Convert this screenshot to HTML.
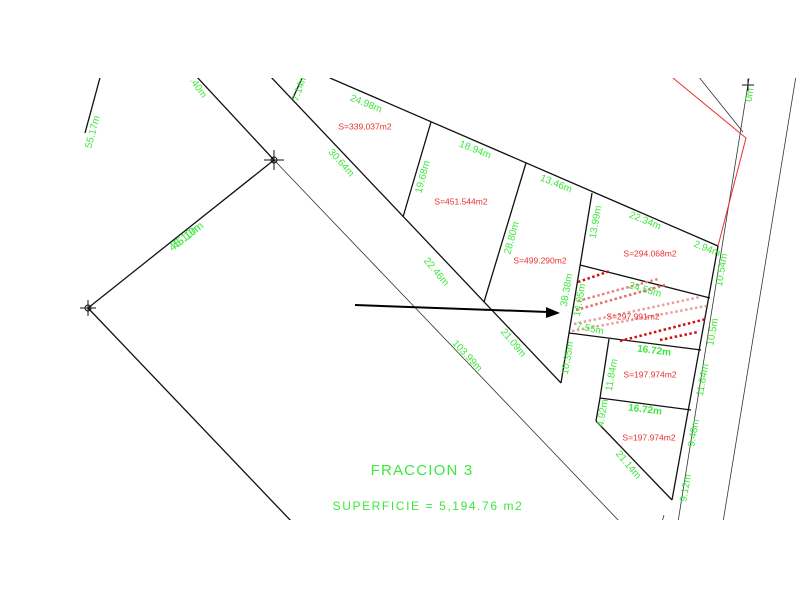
<!DOCTYPE html>
<html><head><meta charset="utf-8"><style>
html,body{margin:0;padding:0;background:#fff;}
svg{display:block;}
text{font-family:"Liberation Sans",sans-serif;}
.g{fill:#3de83d;font-size:10px;text-anchor:middle;dominant-baseline:middle;}
.r{fill:#e83030;font-size:8.5px;text-anchor:middle;dominant-baseline:middle;}
</style></head><body>
<svg width="800" height="600" viewBox="0 0 800 600" xmlns="http://www.w3.org/2000/svg">
<defs><clipPath id="c"><rect x="0" y="78" width="800" height="442"/></clipPath></defs>
<rect width="800" height="600" fill="#fff"/>
<g clip-path="url(#c)">
<g stroke="#111" stroke-width="1.3" fill="none">
<line x1="101" y1="74" x2="85" y2="133"/>
<line x1="196" y1="76" x2="274" y2="160"/>
<line x1="274" y1="160" x2="88" y2="308"/>
<line x1="88" y1="308" x2="292" y2="522"/>
<line x1="270" y1="76" x2="561" y2="383"/>
<line x1="292" y1="100" x2="303" y2="76"/>
<line x1="330" y1="78" x2="718" y2="246"/>
<line x1="718" y1="246" x2="672" y2="500"/>
<line x1="431" y1="122" x2="403" y2="217"/>
<line x1="526" y1="163" x2="484" y2="302"/>
<line x1="592" y1="193" x2="569" y2="333"/>
<line x1="569" y1="333" x2="561" y2="383"/>
<line x1="580" y1="265" x2="710" y2="298"/>
<line x1="569" y1="333" x2="701" y2="350"/>
<line x1="609" y1="339" x2="600" y2="398"/>
<line x1="600" y1="398" x2="691" y2="410"/>
<line x1="600" y1="398" x2="596" y2="421"/>
<line x1="596" y1="421" x2="672" y2="500"/>
</g>
<g stroke="#333" stroke-width="0.8" fill="none">
<line x1="274" y1="160" x2="620" y2="522"/>
<line x1="749" y1="78" x2="678" y2="522"/>
<line x1="796" y1="76" x2="723" y2="522"/>
<line x1="698" y1="76" x2="743" y2="132"/>
<line x1="664" y1="515" x2="662" y2="522"/>
</g>
<polyline points="673,78 746,138 718,246" stroke="#e83030" stroke-width="1" fill="none"/>
<g stroke-width="2.5" stroke-dasharray="2.5,2.5" fill="none">
<line x1="578" y1="282" x2="610" y2="271" stroke="#cc1010"/>
<line x1="578" y1="301" x2="658" y2="279" stroke="#e88080"/>
<line x1="576" y1="310" x2="665" y2="285" stroke="#e07070"/>
<line x1="574" y1="324" x2="700" y2="297" stroke="#e8a0a0"/>
<line x1="572" y1="331" x2="706" y2="306" stroke="#e8a0a0"/>
<line x1="620" y1="341" x2="706" y2="319" stroke="#cc1010"/>
<line x1="660" y1="340" x2="698" y2="332" stroke="#cc1010"/>
</g>
<g stroke="#111" stroke-width="1" fill="none">
<path d="M264 160h20M274 150v20"/><circle cx="274" cy="160" r="3"/>
<path d="M80 308h16M88 300v16"/><circle cx="88" cy="308" r="3"/>
<path d="M742 85h12M748 79v12"/>
</g>
<text class="g" transform="translate(300,88) rotate(-70)">7.14m</text>
<text class="g" transform="translate(198,88) rotate(55)">.40m</text>
<text class="g" transform="translate(93,132) rotate(-75)">55.17m</text>
<text class="g" transform="translate(185,238) rotate(-38)" style="font-size:11px">45.10m</text>
<text class="g" transform="translate(188,236) rotate(-38)" style="font-size:11px">45.10m</text>
<text class="g" transform="translate(750,95) rotate(-80)">0m</text>
</g>
<text class="g" transform="translate(366,104) rotate(22)">24.98m</text>
<text class="r" x="365" y="127">S=339.037m2</text>
<text class="g" transform="translate(341,163) rotate(48)">30.64m</text>
<text class="g" transform="translate(423,177) rotate(-75)">19.68m</text>
<text class="g" transform="translate(475,150) rotate(22)">18.94m</text>
<text class="r" x="461" y="202">S=451.544m2</text>
<text class="g" transform="translate(556,184) rotate(22)">13.46m</text>
<text class="g" transform="translate(512,238) rotate(-75)">28.80m</text>
<text class="g" transform="translate(436,272) rotate(50)">22.46m</text>
<text class="r" x="540" y="261">S=499.290m2</text>
<text class="g" transform="translate(596,222) rotate(-80)">13.99m</text>
<text class="g" transform="translate(645,221) rotate(22)">22.34m</text>
<text class="r" x="650" y="254">S=294.068m2</text>
<text class="g" transform="translate(707,249) rotate(22)">2.94m</text>
<text class="g" transform="translate(722,270) rotate(-80)">10.54m</text>
<text class="g" transform="translate(567,290) rotate(-80)">38.38m</text>
<text class="g" transform="translate(580,300) rotate(-80)">14.05m</text>
<text class="g" transform="translate(645,290) rotate(16)">24.53m</text>
<text class="r" x="633" y="317">S=297.991m2</text>
<text class="g" transform="translate(590,329) rotate(12)">7.55m</text>
<text class="g" transform="translate(654,351) rotate(7)" style="font-weight:bold">16.72m</text>
<text class="g" transform="translate(713,332) rotate(-80)">10.5m</text>
<text class="g" transform="translate(513,343) rotate(50)">21.09m</text>
<text class="g" transform="translate(467,356) rotate(47)">103.99m</text>
<text class="g" transform="translate(568,358) rotate(-80)">10.35m</text>
<text class="g" transform="translate(612,375) rotate(-80)">11.84m</text>
<text class="r" x="650" y="375">S=197.974m2</text>
<text class="g" transform="translate(703,380) rotate(-80)">11.84m</text>
<text class="g" transform="translate(645,410) rotate(7)" style="font-weight:bold">16.72m</text>
<text class="g" transform="translate(603,413) rotate(-80)">4.92m</text>
<text class="r" x="649" y="438">S=197.974m2</text>
<text class="g" transform="translate(694,433) rotate(-80)">9.48m</text>
<text class="g" transform="translate(628,465) rotate(50)">21.14m</text>
<text class="g" transform="translate(686,488) rotate(-80)">9.12m</text>
<text class="g" x="422" y="471" style="font-size:15px;letter-spacing:1.2px">FRACCION  3</text>
<text class="g" x="428" y="507" style="font-size:12px;letter-spacing:1.6px">SUPERFICIE  =  5,194.76  m2</text>
<line x1="355" y1="305" x2="548" y2="312" stroke="#000" stroke-width="2"/>
<polygon points="560,313 546,307 546,318" fill="#000"/>
</svg>
</body></html>
